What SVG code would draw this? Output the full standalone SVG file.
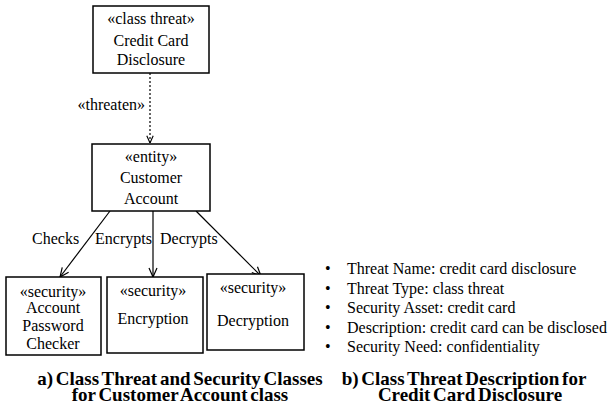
<svg xmlns="http://www.w3.org/2000/svg" width="612" height="406" viewBox="0 0 612 406" font-family="'Liberation Serif', 'Times New Roman', serif">
<defs>
<style>
.box{fill:#fff;stroke:#000;stroke-width:1.5}
.t{font-size:16px;fill:#000;text-anchor:middle}
.l{font-size:16px;fill:#000}
.cap{font-size:19px;font-weight:bold;fill:#000;text-anchor:middle;word-spacing:-2px}
.edge{stroke:#000;stroke-width:1.2;fill:none}
.dash{stroke:#000;stroke-width:1.2;fill:none;stroke-dasharray:2,2}
</style>
<marker id="arr" viewBox="0 0 10 10" refX="10" refY="5" markerWidth="10" markerHeight="10" markerUnits="userSpaceOnUse" orient="auto">
<path d="M1,1 L10,5 L1,9" fill="none" stroke="#000" stroke-width="1.2"/>
</marker>
<marker id="arrs" viewBox="0 0 10 10" refX="10" refY="5" markerWidth="8" markerHeight="8" markerUnits="userSpaceOnUse" orient="auto">
<path d="M1,1 L10,5 L1,9" fill="none" stroke="#000" stroke-width="1.4"/>
</marker>
</defs>
<g id="connectors">
<line class="dash" x1="150" y1="73" x2="150" y2="143" marker-end="url(#arrs)"/>
<text class="l" x="145" y="110" text-anchor="end">«threaten»</text>
<line class="edge" x1="110" y1="211" x2="60" y2="277" marker-end="url(#arr)"/>
<line class="edge" x1="153" y1="211" x2="153" y2="277" marker-end="url(#arr)"/>
<line class="edge" x1="196" y1="211" x2="261" y2="276" marker-end="url(#arr)"/>
<text class="l" x="32" y="244">Checks</text>
<text class="l" x="95" y="244">Encrypts</text>
<text class="l" x="160" y="244">Decrypts</text>
</g>
<g id="threat">
<rect class="box" x="93" y="6" width="116" height="67"/>
<text class="t" x="151" y="24">«class threat»</text>
<text class="t" x="151" y="46">Credit Card</text>
<text class="t" x="151" y="65">Disclosure</text>
</g>
<g id="customer">
<rect class="box" x="92" y="144" width="118" height="67"/>
<text class="t" x="151" y="162">«entity»</text>
<text class="t" x="151" y="183">Customer</text>
<text class="t" x="151" y="204">Account</text>
</g>
<g id="checker">
<rect class="box" x="6" y="277" width="95" height="78"/>
<text class="t" x="53" y="297">«security»</text>
<text class="t" x="53" y="313">Account</text>
<text class="t" x="53" y="331">Password</text>
<text class="t" x="53" y="349">Checker</text>
</g>
<g id="encryption">
<rect class="box" x="107" y="277" width="96" height="76"/>
<text class="t" x="153" y="296">«security»</text>
<text class="t" x="153" y="324">Encryption</text>
</g>
<g id="decryption">
<rect class="box" x="207" y="274" width="97" height="76"/>
<text class="t" x="253" y="293">«security»</text>
<text class="t" x="253" y="326">Decryption</text>
</g>
<g id="description">
<text class="l" x="325" y="274">•</text>
<text class="l" x="347" y="274">Threat Name: credit card disclosure</text>
<text class="l" x="325" y="293.5">•</text>
<text class="l" x="347" y="293.5">Threat Type: class threat</text>
<text class="l" x="325" y="313">•</text>
<text class="l" x="347" y="313">Security Asset: credit card</text>
<text class="l" x="325" y="332.5">•</text>
<text class="l" x="347" y="332.5">Description: credit card can be disclosed</text>
<text class="l" x="325" y="352">•</text>
<text class="l" x="347" y="352">Security Need: confidentiality</text>
</g>
<g id="captions">
<text class="cap" x="180" y="385">a) Class Threat and Security Classes</text>
<text class="cap" x="180" y="401">for Customer Account class</text>
<text class="cap" x="464" y="385">b) Class Threat Description for</text>
<text class="cap" x="470" y="401">Credit Card Disclosure</text>
</g>
</svg>
